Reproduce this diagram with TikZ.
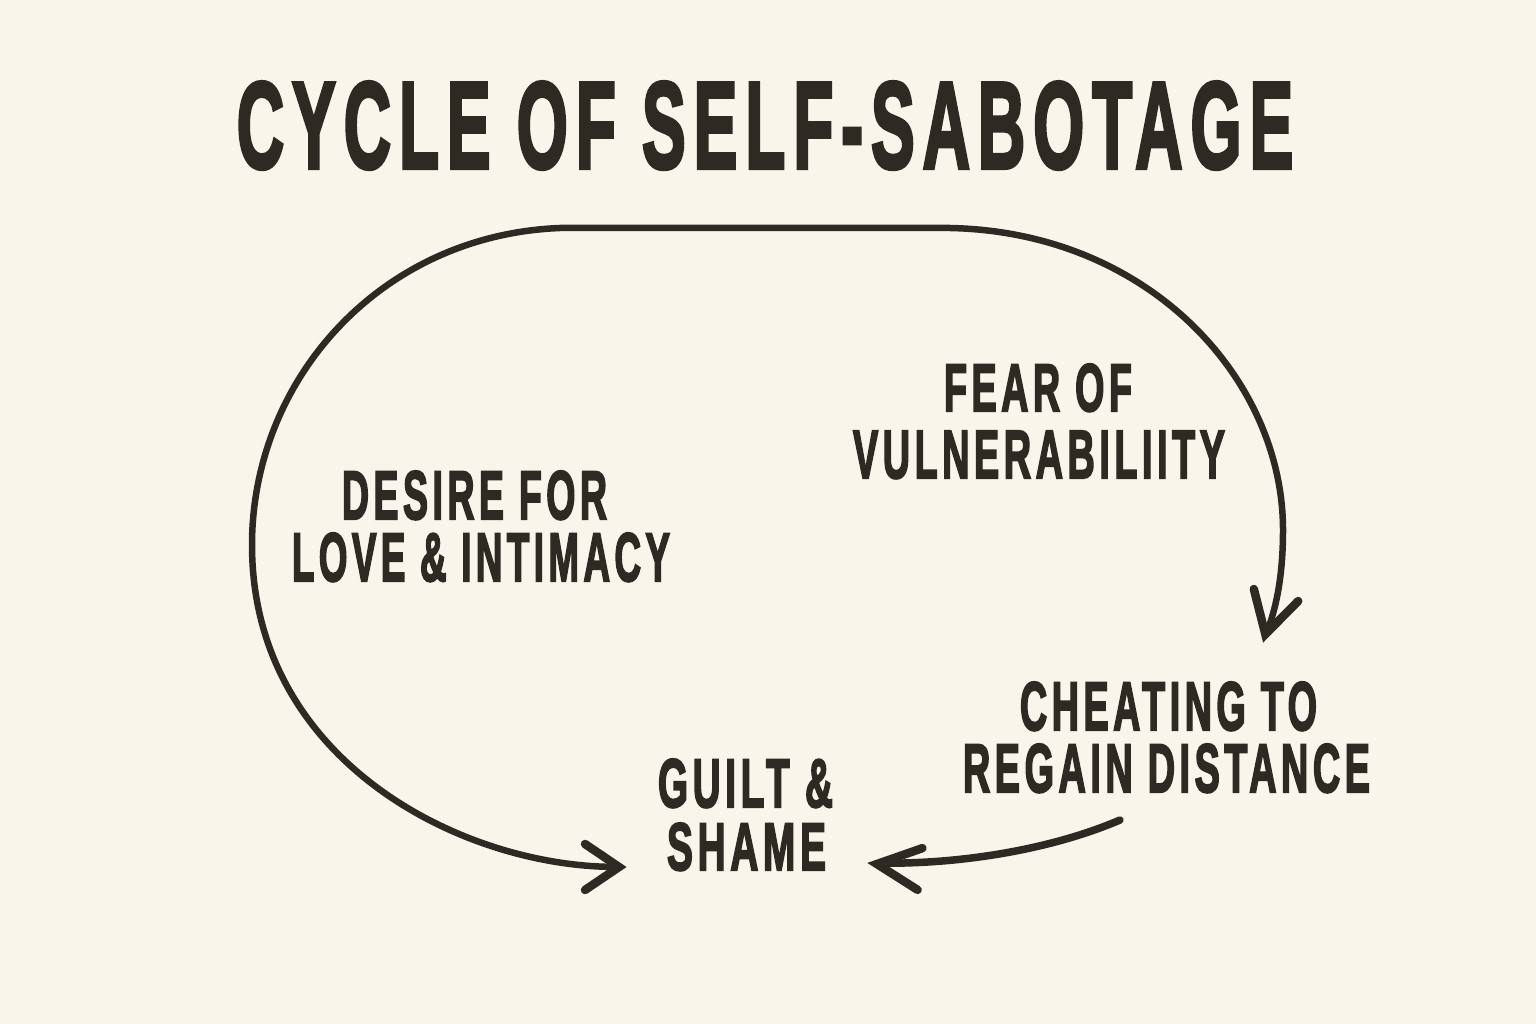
\documentclass[tikz,border=0pt]{standalone}
\usepackage{fontspec}
\setmainfont{Liberation Sans}
\newfontfamily\lblfont{Liberation Sans Bold}[FakeBold=3.3,LetterSpace=12]
\usetikzlibrary{calc}
\definecolor{bg}{RGB}{249,245,235}
\definecolor{ink}{RGB}{46,41,35}
\newcommand\fitline[3]{\resizebox{#1pt}{#2pt}{#3}}
% chevron arrowhead: tip, back point on axis, half width
\newcommand\chevron[3]{%
  \coordinate (cvT) at ($(#1)!9pt!(#2)$);
  \coordinate (cvA) at ($(#2)!#3pt!90:(#1)$);
  \coordinate (cvB) at ($(#2)!#3pt!-90:(#1)$);
  \draw[ink, line width=8.5pt, line join=miter, line cap=round]
    (cvA) -- (cvT) -- (cvB);
}
\tikzset{
  lbl/.style={inner sep=0pt, anchor=base, text=ink, font=\lblfont},
  loopline/.style={draw=ink, line width=6.5pt, line cap=round, line join=round},
}
\begin{document}
\begin{tikzpicture}[x=1pt,y=-1pt]
\fill[bg] (0,0) rectangle (1536,1024);
\useasboundingbox (0,0) rectangle (1536,1024);

\node[lbl] (title) at (765,168) {\fitline{1056}{86}{CYCLE OF SELF-SABOTAGE}};
\node[lbl] (fearA) at (1038,411) {\fitline{188}{47}{FEAR OF}};
\node[lbl] (fearB) at (1039,478) {\fitline{372}{47}{VULNERABILIITY}};
\node[lbl] (desireA) at (474.5,519) {\fitline{265}{48}{DESIRE FOR}};
\node[lbl] (desireB) at (481,581) {\fitline{378}{48}{LOVE \& INTIMACY}};
\node[lbl] (cheatA) at (1168.5,730) {\fitline{297}{48}{CHEATING TO}};
\node[lbl] (cheatB) at (1166.5,792) {\fitline{407}{48}{REGAIN DISTANCE}};
\node[lbl] (guiltA) at (745.5,807) {\fitline{175}{48}{GUILT \&}};
\node[lbl] (guiltB) at (746.5,870) {\fitline{159}{47}{SHAME}};

\coordinate (loopStart) at (628,867);
\coordinate (loopLeft) at (252,545);
\coordinate (topL) at (560,228);
\coordinate (topR) at (950,228);
\coordinate (loopRight) at (1283,530);
\coordinate (loopEnd) at (1263,643);
\draw[loopline, shorten <=14pt, shorten >=14pt]
  (loopStart) .. controls (460,866) and (252,760) .. (loopLeft)
  .. controls (252,380) and (380,235) .. (topL)
  -- (topR)
  .. controls (1150,232) and (1283,380) .. (loopRight)
  .. controls (1283,580) and (1275,610) .. (loopEnd);
\coordinate (headOneBack) at (585,867);
\chevron{loopStart}{headOneBack}{23}
\coordinate (headTwoBack) at (1276,595);
\chevron{loopEnd}{headTwoBack}{23}

\coordinate (backStart) at (1120,820);
\coordinate (backEnd) at (868,863);
\draw[draw=ink, line width=7.5pt, line cap=round, line join=round, shorten >=14pt]
  (backStart) .. controls (1050,850) and (960,864) .. (backEnd);
\coordinate (headThreeBack) at (920,869);
\chevron{backEnd}{headThreeBack}{21}
\end{tikzpicture}
\end{document}
